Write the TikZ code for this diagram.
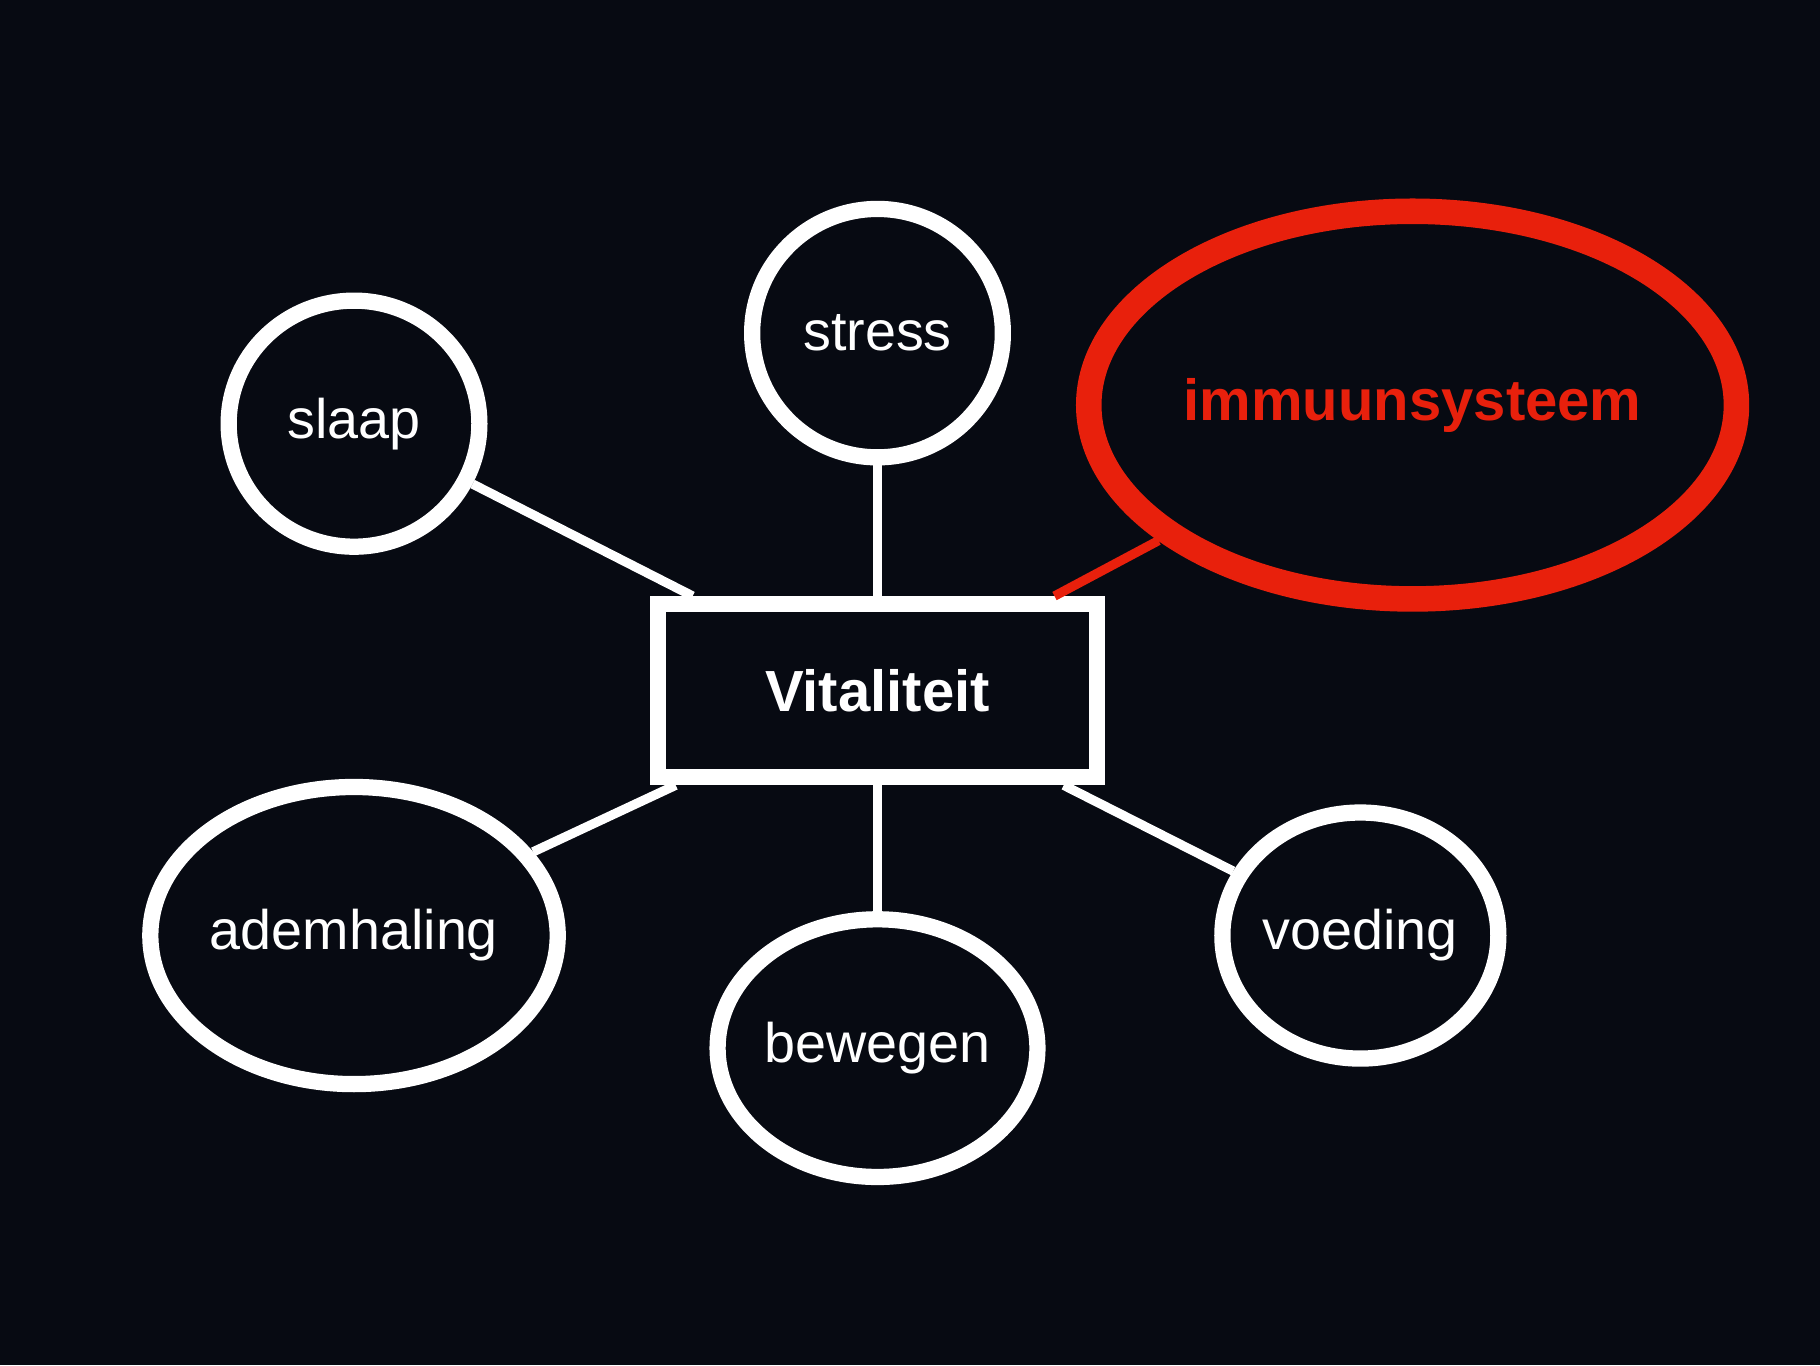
\documentclass[tikz,border=0pt]{standalone}
\usepackage{fontspec}
\setmainfont{Liberation Sans}
\usetikzlibrary{shapes.geometric}
\definecolor{bg}{HTML}{070A12}
\definecolor{hired}{HTML}{E8200C}
\begin{document}
\begin{tikzpicture}[x=1pt,y=-1pt,
  bubble/.style={ellipse,draw=white,line width=14pt,inner sep=0pt,text=white,font=\fontsize{48}{48}\selectfont},
  conn/.style={draw=white,line width=8pt}]
\fill[bg] (0,0) rectangle (1568,1176);
\useasboundingbox (0,0) rectangle (1568,1176);
\node[draw=white,line width=14pt,minimum width=378pt,minimum height=149pt,inner sep=0pt,text=white,font=\bfseries\fontsize{50}{50}\selectfont] (vit) at (756,595) {Vitaliteit};
\node[bubble,minimum width=216pt,minimum height=214pt] (stress) at (756,287) {stress};
\node[bubble,minimum width=216pt,minimum height=212pt] (slaap) at (305,365) {slaap};
\node[bubble,minimum width=322pt,minimum height=256pt] (adem) at (305,806) {ademhaling};
\node[bubble,minimum width=260pt,minimum height=222pt] (bew) at (756,903) {bewegen};
\node[bubble,minimum width=216pt,minimum height=212pt] (voed) at (1172,806) {voeding};
\node[ellipse,draw=hired,line width=22pt,inner sep=0pt,minimum width=458pt,minimum height=334pt,text=hired,font=\bfseries\fontsize{50}{50}\selectfont] (imm) at (1217,349) {immuunsysteem};
\draw[conn] (slaap) -- (vit);
\draw[conn] (stress) -- (vit);
\draw[conn] (adem) -- (vit);
\draw[conn] (bew) -- (vit);
\draw[conn] (voed) -- (vit);
\draw[draw=hired,line width=8pt] (imm) -- (vit);
\end{tikzpicture}
\end{document}
